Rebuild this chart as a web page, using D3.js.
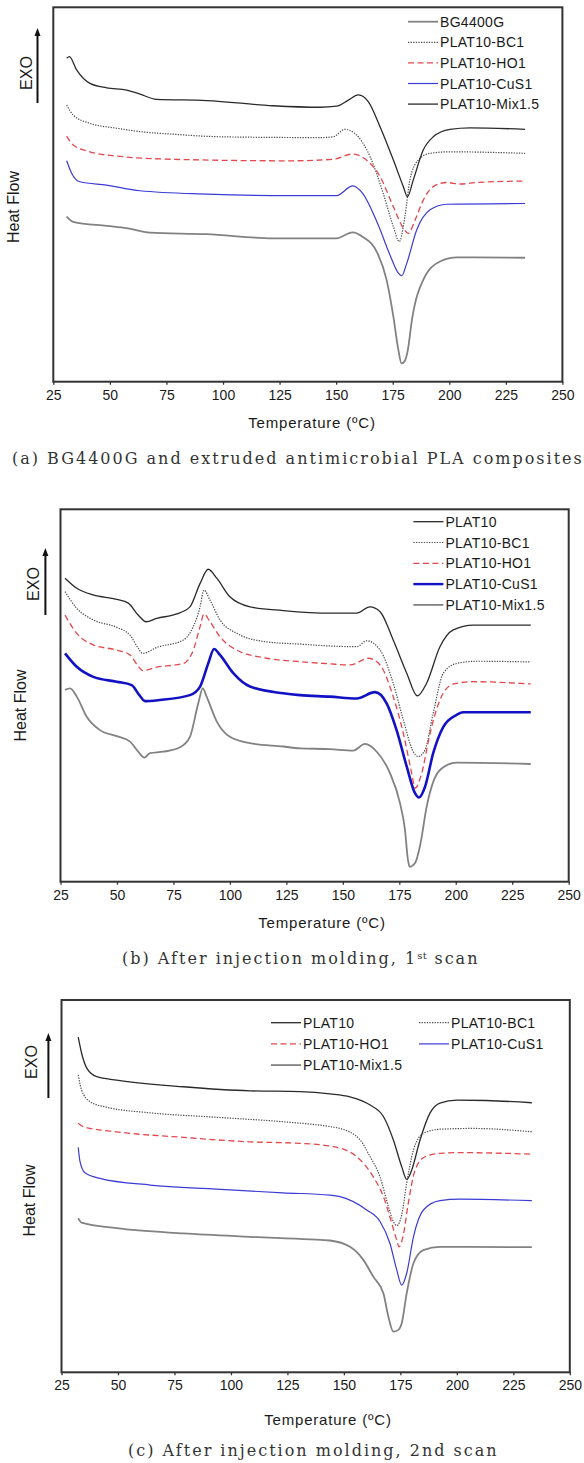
<!DOCTYPE html>
<html><head><meta charset="utf-8">
<script src="https://cdn.jsdelivr.net/npm/d3@7"></script>
<style>body{margin:0;background:#fff}svg{display:block}</style>
</head><body>
<svg id="chart" width="584" height="1463"></svg>
<script>
// ---------- data ----------
const xTicks = [25, 50, 75, 100, 125, 150, 175, 200, 225, 250];
const xDomain = [25, 250];
const yDomain = [0, 100]; // heat flow, arbitrary units

const legendA = ["BG4400G", "PLAT10-BC1", "PLAT10-HO1", "PLAT10-CuS1", "PLAT10-Mix1.5"];
const legendB = ["PLAT10", "PLAT10-BC1", "PLAT10-HO1", "PLAT10-CuS1", "PLAT10-Mix1.5"];
const legendC = ["PLAT10", "PLAT10-BC1", "PLAT10-HO1", "PLAT10-CuS1", "PLAT10-Mix1.5"];

const captionA = "(a) BG4400G and extruded antimicrobial PLA composites";
const captionB = ["(b) After injection molding, 1", "st", " scan"];
const captionC = "(c) After injection molding, 2nd scan";
const xTitle = "Temperature (\u00baC)";

// panel (a): [temperature °C, heat flow a.u.]
const a_BG4400G = [[30.9,44.1],[33.8,42.7],[48.6,41.6],[57.4,41.0],[67.7,39.8],[92.8,39.4],[122,38.3],[150.2,38.3],[157.3,39.9],[161.7,38.7],[168.3,34.3],[172.3,27.2],[175.3,17.4],[177.5,8.5],[178.9,4.9],[180.3,5.5],[181.7,8.5],[183.5,16.5],[188.5,27.2],[195.9,32.1],[203.5,33.2],[233.5,33.1]];
const a_BC1 = [[30.9,73.9],[33.8,71.2],[41.2,69.0],[53,67.7],[63.3,66.8],[78,66.1],[100,65.4],[142.9,65.2],[148.7,65.4],[153.9,67.4],[158.3,66.3],[165,60.1],[170.8,50.3],[175.3,41.4],[177.9,37.4],[180.4,44.1],[182.6,53.9],[186.3,59.2],[191.5,61.0],[200.3,61.4],[233.5,61.0]];
const a_HO1 = [[30.9,65.6],[33.8,63.2],[41.2,61.4],[55.9,60.1],[78,59.4],[129.6,59.0],[148.7,59.4],[157.3,60.8],[162.3,59.7],[169.4,54.8],[175.3,46.7],[179.7,41.0],[181.9,39.6],[184.9,43.2],[188.5,48.5],[192.9,52.1],[198.8,53.2],[205,52.8],[212,53.2],[233.5,53.6]];
const a_CuS1 = [[30.9,59.0],[33.1,55.7],[36.8,53.4],[48.6,52.5],[63.3,51.0],[92.8,50.1],[129.6,49.7],[150.2,49.7],[157.3,52.3],[161.7,50.3],[168.3,42.3],[174.1,33.4],[177.5,29.0],[179,28.3],[181.2,31.6],[185.6,40.5],[191.5,45.9],[198.8,47.4],[233.5,47.6]];
const a_Mix = [[30.9,86.4],[32.1,86.8],[35.3,83.3],[41.2,79.7],[48.6,78.5],[57.4,77.9],[63.3,76.8],[70.7,75.4],[92.8,75.1],[122,73.7],[142.9,73.3],[150.2,73.6],[155.4,75.2],[159.8,76.6],[164.2,74.8],[169.4,68.1],[175.3,59.2],[179.7,52.1],[181.5,49.4],[184.1,53.9],[188.5,61.9],[192.9,65.4],[200.3,67.4],[209.2,67.8],[233.5,67.4]];

// panel (b)
const b_PLAT10 = [[27,81.5],[32.2,78.8],[39.5,77.0],[49.9,75.8],[55,74.8],[59.4,71.6],[62.9,69.8],[67.6,70.7],[76.4,71.9],[82.3,73.8],[86.8,80.1],[90.4,83.9],[94.2,81.5],[100,76.5],[108.9,73.8],[123.6,72.8],[144.3,72.1],[156.1,72.1],[162,73.8],[166.5,72.5],[172.3,64.9],[178.3,56.0],[183,49.9],[187.1,53.3],[193,63.1],[198.9,67.6],[207.8,68.9],[233.2,68.9]];
const b_BC1 = [[27,77.9],[32.2,73.4],[39.5,70.3],[49.9,68.3],[55.8,66.2],[59.4,62.7],[61.4,61.3],[67.6,62.9],[79.4,64.9],[83.8,68.5],[86.8,73.8],[88.5,78.3],[91.2,75.6],[95.6,70.3],[103,66.7],[116.3,64.4],[131,63.8],[144.3,63.3],[156.1,63.1],[160.6,64.7],[166.5,62.2],[172.3,53.3],[176.8,43.4],[181.2,34.9],[183.4,33.6],[186.4,35.4],[190,45.2],[194.5,56.0],[200.4,58.6],[209.3,59.2],[233.2,59.0]];
const b_HO1 = [[27,71.6],[32.2,66.7],[39.5,63.6],[49.9,62.2],[55.8,60.9],[59,58.2],[61.4,56.7],[67.6,57.6],[79.4,58.6],[83.8,62.2],[86.8,68.5],[88.5,71.9],[91.2,69.8],[95.6,65.8],[103,62.2],[116.3,60.0],[131,59.1],[144.3,58.5],[153.2,58.2],[161.3,60.0],[166.5,58.2],[172.3,49.7],[176.8,39.8],[180.5,29.1],[182,25.1],[184.9,29.1],[188.6,39.8],[193,48.8],[198.9,53.1],[207.8,53.7],[233.2,53.1]];
const b_CuS1 = [[27,61.3],[32.2,57.7],[39.5,55.0],[49.9,53.7],[56.5,52.8],[59.9,50.1],[62.4,48.5],[69,48.8],[82.3,50.1],[86.8,52.4],[90.4,58.6],[93,62.5],[95.6,60.9],[101.5,56.0],[108.9,52.4],[123.6,50.6],[131,50.1],[144.3,49.7],[156.1,49.2],[164.2,50.9],[169.4,47.9],[173.8,40.7],[178.3,30.9],[182,23.7],[183.7,22.6],[186.4,25.5],[190,34.5],[194.5,41.6],[200.4,44.8],[203.3,45.5],[233.2,45.5]];
const b_Mix = [[27,51.5],[29.2,51.9],[32.2,49.7],[36.6,44.3],[42.5,40.7],[49.9,39.1],[55.8,37.6],[59.4,34.9],[62.1,33.3],[64.6,34.5],[70.5,34.9],[77.9,36.1],[82.3,38.9],[86,47.9],[88,51.9],[89.7,49.7],[94.2,43.0],[100,38.9],[108.9,37.2],[123.6,36.3],[131,35.8],[144.3,35.6],[154.6,35.2],[159.8,37.0],[165,34.9],[170.9,29.1],[175.3,21.1],[177.5,14.0],[178.8,6.0],[179.6,4.0],[181,4.4],[182.3,5.4],[184.3,10.0],[187.1,20.1],[193,30.0],[200.4,32.0],[233.2,31.6]];

// panel (c)
const c_PLAT10 = [[32.4,90.0],[33.9,85.7],[36.2,81.7],[40.6,79.4],[49.4,78.5],[78.9,76.7],[108.4,75.6],[130.6,75.4],[143.8,74.8],[152.7,74.0],[161.6,71.8],[167.5,68.7],[171.9,62.4],[175.6,55.2],[177.8,51.8],[180,54.3],[183.7,62.4],[188.1,69.6],[192.5,72.3],[200,73.1],[213.2,73.0],[233.2,72.4]];
const c_BC1 = [[32.4,79.9],[33.9,75.8],[37.6,72.7],[45,71.2],[64.2,69.7],[93.7,68.5],[122.9,67.3],[143.8,66.0],[148.3,65.5],[157.2,62.4],[161.6,57.9],[166,52.5],[169.7,44.5],[171.9,40.5],[173.4,39.4],[175.6,42.3],[177.8,50.8],[180.8,59.7],[185.2,64.2],[192.5,65.3],[207.3,65.5],[233.2,64.6]];
const c_HO1 = [[32.4,66.9],[34.6,66.0],[49.4,64.6],[78.9,63.1],[108.4,61.9],[130.6,61.5],[145.3,60.6],[155.7,57.9],[163,52.5],[167.5,47.2],[171.2,40.0],[173.4,35.5],[174.4,33.7],[176.3,36.9],[178.5,45.4],[181.5,54.3],[185.9,57.9],[192.5,58.8],[201.4,59.0],[233.2,58.6]];
const c_CuS1 = [[32.4,60.4],[33.2,56.6],[35.4,53.6],[42,52.1],[64.2,50.3],[93.7,49.2],[122.9,48.2],[143.8,47.6],[148.3,47.2],[160.1,43.6],[166,40.5],[170.4,34.6],[173.4,27.5],[175.6,23.4],[177.8,26.6],[180.8,36.4],[185.2,43.6],[192.5,46.1],[201.4,46.5],[233.2,46.1]];
const c_Mix = [[32.4,41.4],[33.9,40.2],[49.4,38.7],[78.9,37.3],[108.4,36.4],[135,35.7],[143.8,35.4],[152.7,33.7],[158.6,30.2],[163,25.7],[167.5,21.2],[169.7,14.9],[171.9,10.9],[174.1,11.4],[175.6,13.2],[177.8,21.2],[180.8,29.3],[185.2,32.8],[192.5,33.7],[233.2,33.6]];

// ---------- styles ----------
const styles = {
  dark:      {stroke: "#2a2a2a", width: 1.3, dash: null},
  dotted:    {stroke: "#4a4a4a", width: 1.2, dash: "1.3,1.3"},
  red:       {stroke: "#e4474d", width: 1.3, dash: "6,3.5"},
  blueThin:  {stroke: "#3b3bd6", width: 1.2, dash: null},
  blueThick: {stroke: "#1212c4", width: 2.6, dash: null},
  gray:      {stroke: "#828282", width: 1.8, dash: null}
};

const panels = [
  {
    L: 53.3, R: 562.4, T: 7.3, B: 381.7,
    series: [
      {name: legendA[0], data: a_BG4400G, style: "gray"},
      {name: legendA[1], data: a_BC1, style: "dotted"},
      {name: legendA[2], data: a_HO1, style: "red"},
      {name: legendA[3], data: a_CuS1, style: "blueThin"},
      {name: legendA[4], data: a_Mix, style: "dark"}
    ],
    legend: legendA.map((n, i) => ({name: n, x: 408, y: 21.7 + i * 20.6})),
    exo: {x: 32, y: 73, ax: 37.5, ay1: 103, ay2: 28},
    hf: {x: 19, y: 207},
    title: {x: 312, y: 423},
    caption: {x: 12, y: 464, anchor: "start", parts: [captionA]}
  },
  {
    L: 60.5, R: 568.7, T: 509.3, B: 881.7,
    series: [
      {name: legendB[0], data: b_PLAT10, style: "dark"},
      {name: legendB[1], data: b_BC1, style: "dotted"},
      {name: legendB[2], data: b_HO1, style: "red"},
      {name: legendB[3], data: b_CuS1, style: "blueThick"},
      {name: legendB[4], data: b_Mix, style: "gray"}
    ],
    legend: legendB.map((n, i) => ({name: n, x: 413.4, y: 521.7 + i * 20.8})),
    exo: {x: 39, y: 584, ax: 45.4, ay1: 615, ay2: 548},
    hf: {x: 26, y: 705.5},
    title: {x: 322, y: 923},
    caption: {x: 122, y: 964, anchor: "start", parts: captionB, sup: 1}
  },
  {
    L: 61.5, R: 569.8, T: 1000, B: 1372.3,
    series: [
      {name: legendC[0], data: c_PLAT10, style: "dark"},
      {name: legendC[1], data: c_BC1, style: "dotted"},
      {name: legendC[2], data: c_HO1, style: "red"},
      {name: legendC[3], data: c_CuS1, style: "blueThin"},
      {name: legendC[4], data: c_Mix, style: "gray"}
    ],
    legend: legendC.map((n, i) => ({name: n, x: i % 2 === 0 ? 271 : 419, y: 1022.7 + Math.floor(i / 2) * 21.2})),
    exo: {x: 37, y: 1062, ax: 48.4, ay1: 1098, ay2: 1033},
    hf: {x: 35, y: 1200.5},
    title: {x: 328, y: 1420},
    caption: {x: 128, y: 1456, anchor: "start", parts: [captionC]}
  }
];

// ---------- draw ----------
const svg = d3.select("#chart");
const sansFont = "'Liberation Sans', Arial, sans-serif";
const serifFont = "'DejaVu Serif', serif";

panels.forEach(p => {
  const x = d3.scaleLinear().domain(xDomain).range([p.L, p.R]);
  const y = d3.scaleLinear().domain(yDomain).range([p.B, p.T]);
  const g = svg.append("g");

  // axis
  const ax = g.append("g").attr("transform", `translate(0,${p.B})`)
    .call(d3.axisBottom(x).tickValues(xTicks).tickSize(3).tickPadding(5).tickFormat(d3.format("d")));
  ax.select(".domain").remove();
  ax.selectAll(".tick line").attr("stroke", "#333").attr("stroke-width", 1.3);
  ax.selectAll(".tick text").attr("font-family", sansFont).attr("font-size", 14).attr("fill", "#1a1a1a");

  // curves
  const line = d3.line().x(d => x(d[0])).y(d => y(d[1])).curve(d3.curveMonotoneX);
  p.series.forEach(s => {
    const st = styles[s.style];
    g.append("path").datum(s.data).attr("d", line)
      .attr("fill", "none").attr("stroke", st.stroke).attr("stroke-width", st.width)
      .attr("stroke-dasharray", st.dash).attr("stroke-linejoin", "round");
  });

  // frame
  g.append("rect").attr("x", p.L).attr("y", p.T).attr("width", p.R - p.L).attr("height", p.B - p.T)
    .attr("fill", "none").attr("stroke", "#333").attr("stroke-width", 2);

  // legend
  p.legend.forEach(l => {
    const s = p.series.find(s => s.name === l.name);
    const st = styles[s.style];
    g.append("line").attr("x1", l.x).attr("x2", l.x + 30).attr("y1", l.y).attr("y2", l.y)
      .attr("stroke", st.stroke).attr("stroke-width", Math.min(st.width, 2.4)).attr("stroke-dasharray", st.dash);
    g.append("text").attr("x", l.x + 32).attr("y", l.y).attr("dy", "0.36em")
      .attr("font-family", sansFont).attr("font-size", 14).attr("letter-spacing", 0.3)
      .attr("fill", "#1a1a1a").text(l.name);
  });

  // y labels
  g.append("text").attr("transform", `translate(${p.exo.x},${p.exo.y}) rotate(-90)`)
    .attr("text-anchor", "middle").attr("font-family", sansFont).attr("font-size", 16).attr("fill", "#1a1a1a").text("EXO");
  g.append("line").attr("x1", p.exo.ax).attr("x2", p.exo.ax).attr("y1", p.exo.ay1).attr("y2", p.exo.ay2 + 6)
    .attr("stroke", "#111").attr("stroke-width", 2);
  g.append("path").attr("d", `M${p.exo.ax},${p.exo.ay2} L${p.exo.ax - 3},${p.exo.ay2 + 8} L${p.exo.ax + 3},${p.exo.ay2 + 8} Z`)
    .attr("fill", "#111");
  g.append("text").attr("transform", `translate(${p.hf.x},${p.hf.y}) rotate(-90)`)
    .attr("text-anchor", "middle").attr("font-family", sansFont).attr("font-size", 16).attr("fill", "#1a1a1a").text("Heat Flow");

  // x title
  g.append("text").attr("x", p.title.x).attr("y", p.title.y).attr("dy", "0.35em").attr("text-anchor", "middle")
    .attr("font-family", sansFont).attr("font-size", 15).attr("letter-spacing", 0.8).attr("fill", "#1a1a1a").text(xTitle);

  // caption
  const cap = g.append("text").attr("x", p.caption.x).attr("y", p.caption.y).attr("text-anchor", p.caption.anchor)
    .attr("font-family", serifFont).attr("font-size", 16).attr("letter-spacing", 2.0).attr("fill", "#333");
  p.caption.parts.forEach((t, i) => {
    const ts = cap.append("tspan").text(t);
    if (p.caption.sup === i) ts.attr("font-size", 10).attr("baseline-shift", "super").attr("letter-spacing", 0.5);
  });
});
</script>
</body></html>
